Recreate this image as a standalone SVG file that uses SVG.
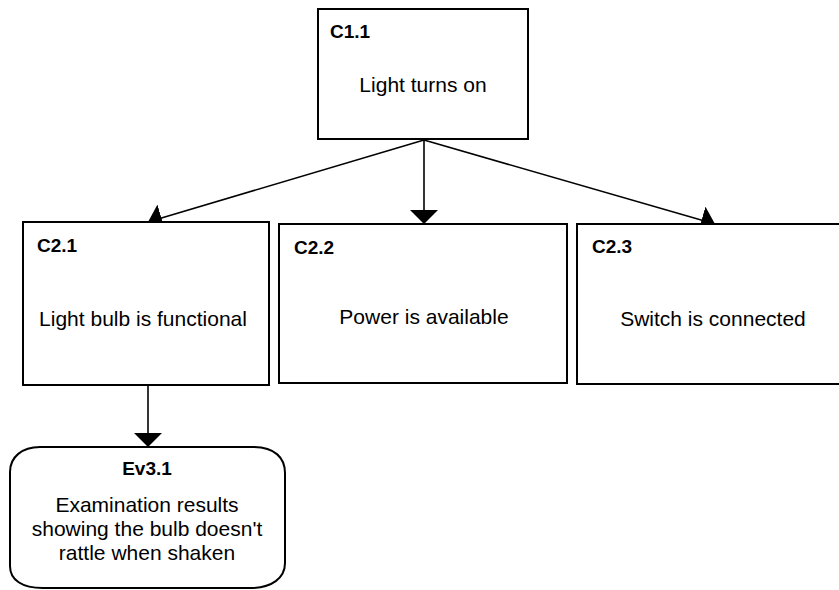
<svg xmlns="http://www.w3.org/2000/svg" width="839" height="590" viewBox="0 0 839 590">
<style>
.box{fill:#fff;stroke:#000;stroke-width:2}
.lbl{font-family:"Liberation Sans",Arial,sans-serif;font-weight:bold;font-size:19px;fill:#000}
.txt{font-family:"Liberation Sans",Arial,sans-serif;font-size:21px;fill:#000;text-anchor:middle}
.con{stroke:#000;stroke-width:1.6;fill:none;marker-end:url(#arr)}
</style>
<defs>
<marker id="arr" markerUnits="userSpaceOnUse" viewBox="0 0 14 28" markerWidth="14" markerHeight="28" refX="14" refY="14" orient="auto">
<path d="M0,0 L14,14 L0,28 z" fill="#000"/>
</marker>
</defs>
<rect width="839" height="590" fill="#fff"/>
<g id="connectors">
<line class="con" x1="424" y1="140" x2="148" y2="222"/>
<line class="con" x1="424" y1="140" x2="424" y2="224"/>
<line class="con" x1="424" y1="140" x2="715" y2="224"/>
<line class="con" x1="148" y1="385" x2="148" y2="447"/>
</g>
<g id="C1.1">
<rect class="box" x="318" y="9" width="210" height="130"/>
<text class="lbl" x="330" y="38">C1.1</text>
<text class="txt" x="423" y="92">Light turns on</text>
</g>
<g id="C2.1">
<rect class="box" x="23" y="222" width="246" height="163"/>
<text class="lbl" x="37" y="252">C2.1</text>
<text class="txt" x="143" y="326">Light bulb is functional</text>
</g>
<g id="C2.2">
<rect class="box" x="279" y="224" width="288" height="159"/>
<text class="lbl" x="294" y="254">C2.2</text>
<text class="txt" x="424" y="324">Power is available</text>
</g>
<g id="C2.3">
<rect class="box" x="577" y="224" width="270" height="160"/>
<text class="lbl" x="592" y="253">C2.3</text>
<text class="txt" x="713" y="326">Switch is connected</text>
</g>
<g id="Ev3.1">
<path class="box" d="M40,447 H253 C275,447 285,458 285,473 V563 C285,578 272,588 250,588 H43 C22,588 10,580 10,566 V472 C10,457 22,447 40,447 Z"/>
<text class="txt" x="147" y="475" style="font-weight:bold;font-size:19px">Ev3.1</text>
<text class="txt" x="147" y="512">Examination results</text>
<text class="txt" x="147" y="536">showing the bulb doesn't</text>
<text class="txt" x="147" y="560">rattle when shaken</text>
</g>
</svg>
